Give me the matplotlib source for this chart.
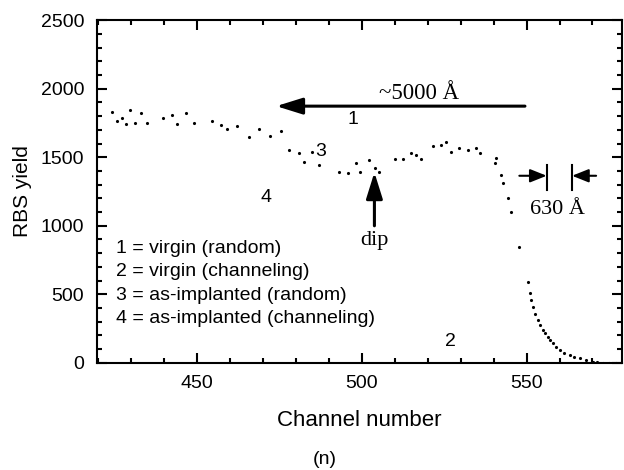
import matplotlib
matplotlib.use("Agg")
import matplotlib.pyplot as plt
from matplotlib.ticker import MultipleLocator

# RBS spectrum (channel, yield)
channel = [424.0, 425.6, 427.3, 428.5, 429.6, 431.0, 432.8, 434.9, 439.5, 442.5,
           443.8, 446.6, 449.1, 454.6, 457.2, 459.2, 462.2, 465.8, 468.8, 472.2,
           475.4, 478.0, 481.0, 482.5, 485.0, 487.1, 493.2, 495.7, 498.2, 499.5,
           502.1, 504.1, 505.3, 509.9, 512.4, 514.9, 516.4, 518.0, 521.5, 524.0,
           525.4, 527.1, 529.6, 532.2, 534.7, 536.0, 540.3, 540.8, 542.2, 542.8,
           544.3, 545.3, 547.6, 550.4, 550.9, 551.4, 551.9, 552.6, 553.4, 554.2,
           554.9, 555.7, 556.5, 557.2, 558.0, 559.0, 560.0, 561.5, 563.1, 564.5,
           566.1, 568.0, 570.1, 571.5, 573.2, 575.0, 577.0]
rbs_yield = [1829, 1764, 1783, 1742, 1844, 1751, 1824, 1747, 1783, 1807,
             1742, 1820, 1751, 1766, 1735, 1703, 1727, 1649, 1703, 1654,
             1693, 1552, 1528, 1467, 1535, 1443, 1394, 1382, 1455, 1394,
             1480, 1419, 1394, 1485, 1485, 1528, 1516, 1485, 1582, 1589,
             1613, 1540, 1565, 1552, 1565, 1528, 1455, 1491, 1370, 1309,
             1200, 1103, 848, 593, 508, 460, 410, 360, 313, 275,
             241, 215, 192, 168, 143, 118, 95, 75, 58, 45,
             34, 20, 9, 5, 0, 0, 0]

legend_lines = ["1 = virgin (random)",
                "2 = virgin (channeling)",
                "3 = as-implanted (random)",
                "4 = as-implanted (channeling)"]

sans = "Liberation Sans"
serif = "Liberation Serif"

fig = plt.figure(figsize=(6.24, 4.70), dpi=100)
ax = fig.add_axes([0.155, 0.228, 0.842, 0.729])

ax.plot(channel, rbs_yield, ".", color="black", ms=2.5)

ax.set_xlim(419.5, 579)
ax.set_ylim(0, 2500)
ax.xaxis.set_major_locator(MultipleLocator(50))
ax.xaxis.set_minor_locator(MultipleLocator(10))
ax.yaxis.set_major_locator(MultipleLocator(500))
ax.yaxis.set_minor_locator(MultipleLocator(100))
ax.tick_params(which="both", direction="in", top=True, right=True, width=1.5,
               labelsize=14, pad=9)
ax.tick_params(which="major", length=7)
ax.tick_params(which="minor", length=3.5)
for lbl in ax.get_xticklabels() + ax.get_yticklabels():
    lbl.set_fontfamily(sans)
for sp in ax.spines.values():
    sp.set_linewidth(1.5)

ax.set_xlabel("Channel number", fontsize=16, family=sans, labelpad=13)
ax.set_ylabel("RBS yield", fontsize=15, family=sans, labelpad=6)
fig.text(0.52, 0.012, "(n)", fontsize=14, family=sans, ha="center")

# ~5000 A arrow
ax.annotate("", xy=(474, 1873), xytext=(549.5, 1873),
            arrowprops=dict(arrowstyle="-|>,head_length=1.6,head_width=0.5",
                            mutation_scale=10, lw=2.2, color="black",
                            shrinkA=0, shrinkB=0))
ax.text(517.5, 1965, "~5000 Å", fontsize=16.5, family=serif, ha="center", va="center")

# curve numbers
ax.text(497.4, 1778, "1", fontsize=14, family=sans, ha="center", va="center")
ax.text(487.4, 1545, "3", fontsize=14, family=sans, ha="center", va="center")
ax.text(471.0, 1210, "4", fontsize=14, family=sans, ha="center", va="center")
ax.text(526.9, 155, "2", fontsize=14, family=sans, ha="center", va="center")

# dip arrow
ax.annotate("", xy=(503.8, 1390), xytext=(503.8, 1000),
            arrowprops=dict(arrowstyle="-|>,head_length=1.6,head_width=0.5",
                            mutation_scale=10, lw=2.2, color="black",
                            shrinkA=0, shrinkB=0))
ax.text(503.8, 890, "dip", fontsize=16, family=serif, ha="center", va="center")

# 630 A marker
for xb in (556.1, 563.8):
    ax.plot([xb, xb], [1261, 1443], color="black", lw=1.5)
for x0, x1 in ((547.8, 556.1), (571.1, 563.8)):
    ax.annotate("", xy=(x1, 1365), xytext=(x0, 1365),
                arrowprops=dict(arrowstyle="-|>,head_length=1.0,head_width=0.4",
                                mutation_scale=10, lw=1.5, color="black",
                                shrinkA=0, shrinkB=0))
ax.text(559.5, 1120, "630 Å", fontsize=16, family=serif, ha="center", va="center")

for i, line in enumerate(legend_lines):
    ax.text(425.5, 835 - i * 171, line, fontsize=14, family=sans, va="center")

fig.savefig("out.png", dpi=100)
